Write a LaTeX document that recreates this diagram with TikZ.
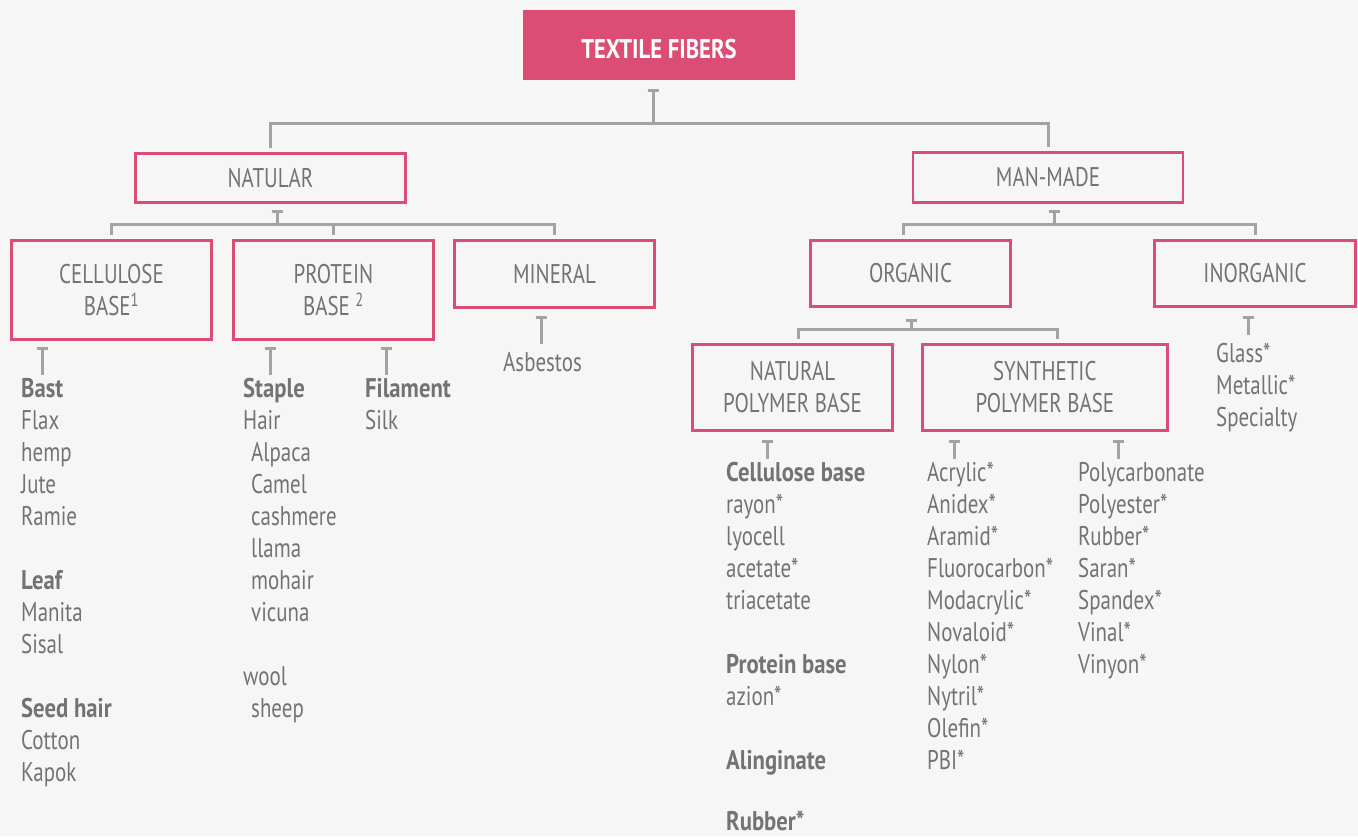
\documentclass[tikz,border=0pt]{standalone}
\usepackage{fontspec}
\setmainfont{PT Sans}[UprightFeatures={FakeStretch=0.775}, BoldFeatures={FakeStretch=0.84}]
\usetikzlibrary{arrows.meta,positioning,calc}

\definecolor{fiberpink}{HTML}{DC4D75}
\definecolor{fibergray}{HTML}{737373}
\definecolor{linkgray}{HTML}{A3A3A3}
\definecolor{paper}{HTML}{F6F6F6}

\newcommand{\fiberindent}{\hspace*{8pt}}

\tikzset{
  catbox/.style={draw=fiberpink, line width=2.6pt, fill=paper, text=fibergray,
    align=center, inner sep=0pt, font=\fontsize{27}{32}\selectfont},
  rootbox/.style={catbox, fill=fiberpink, text=white, text height=27pt,
    font=\fontsize{27}{32}\selectfont\bfseries},
  link/.style={draw=linkgray, line width=3pt},
  tee/.style={link, {Bar[width=11pt,line width=3pt]}-},
  fiberlist/.style={anchor=north west, inner sep=0pt, align=left,
    text=fibergray, font=\fontsize{27}{32}\selectfont},
}

\begin{document}
\begin{tikzpicture}[x=1pt, y=-1pt]
  \fill[paper] (0,0) rectangle (1358,836);
  \useasboundingbox (0,0) rectangle (1358,836);

  % boxes
  \node[rootbox, minimum width=269.4pt, minimum height=67.4pt] (root) at (659,45) {TEXTILE FIBERS};
  \node[catbox, minimum width=270.4pt, minimum height=49.4pt] (natular) at (270.5,178) {NATULAR};
  \node[catbox, minimum width=270pt, minimum height=50.4pt] (manmade) at (1048,177.5) {MAN-MADE};

  \node[catbox, minimum width=200.4pt, minimum height=99.4pt] (cellulose) at (111.5,290) {CELLULOSE\\BASE\textsuperscript{1}};
  \node[catbox, minimum width=200.4pt, minimum height=99.4pt, right=19pt of cellulose] (protein) {PROTEIN\\BASE \textsuperscript{2}};
  \node[catbox, minimum width=200.4pt, minimum height=67.4pt, right=18pt of protein.north east, anchor=north west] (mineral) {MINERAL};

  \node[catbox, minimum width=200.4pt, minimum height=66.4pt] (organic) at (910.5,273.5) {ORGANIC};
  \node[catbox, minimum width=201.4pt, minimum height=66.4pt, right=141pt of organic] (inorganic) {INORGANIC};

  \node[catbox, minimum width=200.4pt, minimum height=86.4pt] (natpoly) at (792.5,387.5) {NATURAL\\POLYMER BASE};
  \node[catbox, minimum width=245pt, minimum height=86.4pt, right=27pt of natpoly] (synpoly) {SYNTHETIC\\POLYMER BASE};

  % lists
  \node[fiberlist] (bast) at (21,378) {\textbf{Bast}\\Flax\\hemp\\Jute\\Ramie\\[32pt]\textbf{Leaf}\\Manita\\Sisal\\[32pt]\textbf{Seed hair}\\Cotton\\Kapok};
  \node[fiberlist] (staple) at (243,378) {\textbf{Staple}\\Hair\\\fiberindent Alpaca\\\fiberindent Camel\\\fiberindent cashmere\\\fiberindent llama\\\fiberindent mohair\\\fiberindent vicuna\\[32pt]wool\\\fiberindent sheep};
  \node[fiberlist] (filament) at (365,378) {\textbf{Filament}\\Silk};
  \node[fiberlist] (asbestos) at (503,352) {Asbestos};
  \node[fiberlist] (natlist) at (726,462) {\textbf{Cellulose base}\\rayon*\\lyocell\\acetate*\\triacetate\\[32pt]\textbf{Protein base}\\azion*\\[32pt]\textbf{Alinginate}\\[29pt]\textbf{Rubber*}};
  \node[fiberlist] (synlist) at (927,462) {Acrylic*\\Anidex*\\Aramid*\\Fluorocarbon*\\Modacrylic*\\Novaloid*\\Nylon*\\Nytril*\\Olefin*\\PBI*};
  \node[fiberlist] (polylist) at (1078,462) {Polycarbonate\\Polyester*\\Rubber*\\Saran*\\Spandex*\\Vinal*\\Vinyon*};
  \node[fiberlist] (inorglist) at (1216,343) {Glass*\\Metallic*\\Specialty};

  % connectors
  \draw[tee] ($(root.south)+(-6,9)$) -- ++(0,34) coordinate (rootjoin);
  \draw[link, shorten <=4pt, shorten >=4pt] (natular.north) |- (rootjoin) -| (manmade.north);

  \draw[tee] ($(natular.south)+(6.5,6)$) -- ++(0,14.5) coordinate (natjoin);
  \draw[link, shorten <=4pt, shorten >=4pt] (cellulose.north) |- (natjoin) -| (mineral.north);
  \draw[link, shorten >=4pt] (natjoin -| protein.north) -- (protein.north);

  \draw[tee] ($(manmade.south)+(6,6)$) -- ++(0,14.5) coordinate (mmjoin);
  \draw[link, shorten <=4pt, shorten >=4pt] ([xshift=-7pt]organic.north) |- (mmjoin) -| (inorganic.north);

  \draw[tee] ($(organic.south)+(0.5,11)$) -- ++(0,10) coordinate (orgjoin);
  \draw[link, shorten <=4pt, shorten >=4pt] ([xshift=5.5pt]natpoly.north) |- (orgjoin) -| ([xshift=13pt]synpoly.north);

  % leaf markers
  \draw[tee] ($(cellulose.south west)+(32,6)$) -- ++(0,28);
  \draw[tee] ($(protein.south west)+(38,6)$) -- ++(0,28);
  \draw[tee] ($(protein.south west)+(154,6)$) -- ++(0,28);
  \draw[tee] ($(mineral.south)+(-13.5,6.5)$) -- ++(0,28);
  \draw[tee] ($(inorganic.south)+(-6.5,7.5)$) -- ++(0,19);
  \draw[tee] ($(natpoly.south)+(-25.5,8)$) -- ++(0,19);
  \draw[tee] ($(synpoly.south west)+(33,8)$) -- ++(0,19);
  \draw[tee] ($(synpoly.south west)+(197,8)$) -- ++(0,19);
\end{tikzpicture}
\end{document}
